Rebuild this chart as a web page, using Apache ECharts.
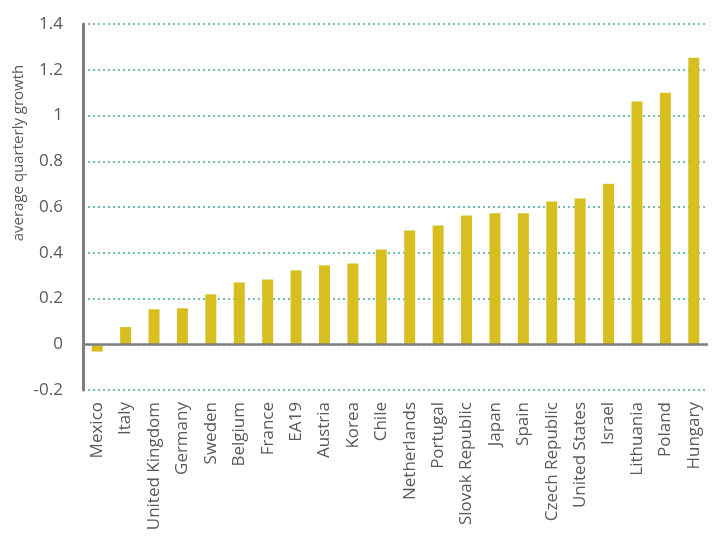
<!DOCTYPE html>
<html>
<head>
<meta charset="utf-8">
<script src="https://cdn.jsdelivr.net/npm/echarts@6/dist/echarts.min.js"></script>
<style>
  html, body { margin: 0; padding: 0; background: #fff; }
  #chart { width: 728px; height: 544px; }
</style>
</head>
<body>
<div id="chart"></div>
<script>
const countries = [
  'Mexico', 'Italy', 'United Kingdom', 'Germany', 'Sweden', 'Belgium', 'France',
  'EA19', 'Austria', 'Korea', 'Chile', 'Netherlands', 'Portugal', 'Slovak Republic',
  'Japan', 'Spain', 'Czech Republic', 'United States', 'Israel', 'Lithuania',
  'Poland', 'Hungary'
]
const growth = [
  -0.032, 0.075, 0.153, 0.157, 0.218, 0.270, 0.283,
  0.323, 0.345, 0.353, 0.414, 0.497, 0.519, 0.563,
  0.573, 0.573, 0.624, 0.637, 0.702, 1.061,
  1.100, 1.252
]
const yTicks = { min: -0.2, max: 1.4, step: 0.2 }
const yTitle = 'average quarterly growth'

const FONT = '"Open Sans", "Noto Sans", sans-serif'
const GREY = '#7f7f7f'

const chart = echarts.init(document.getElementById('chart'))

chart.setOption({
  animation: false,
  grid: { left: 83, right: 20, top: 24, bottom: 154 },
  xAxis: {
    type: 'category',
    data: countries,
    axisLine: { show: false },
    axisTick: { show: false },
    axisLabel: {
      rotate: 90,
      margin: 12,
      interval: 0,
      fontFamily: FONT,
      fontSize: 17,
      color: '#595959'
    }
  },
  yAxis: {
    type: 'value',
    min: yTicks.min,
    max: yTicks.max,
    interval: yTicks.step,
    axisLine: { show: true, lineStyle: { color: GREY, width: 3 } },
    axisTick: { show: false },
    axisLabel: {
      margin: 20,
      fontFamily: FONT,
      fontSize: 17,
      color: '#595959',
      formatter: v => String(Math.round(v * 10) / 10)
    },
    splitLine: {
      lineStyle: { color: '#4aa5a5', width: 1.5, type: [2, 3] }
    }
  },
  graphic: [{
    type: 'text',
    x: 19,
    y: 153,
    rotation: Math.PI / 2,
    style: {
      text: yTitle,
      font: '15px ' + FONT,
      fill: '#595959',
      align: 'center',
      verticalAlign: 'middle'
    }
  }],
  series: [{
    type: 'bar',
    data: growth,
    barWidth: 11,
    itemStyle: { color: '#d6bf1f' },
    markLine: {
      silent: true,
      symbol: 'none',
      label: { show: false },
      lineStyle: { color: GREY, width: 2.5, type: 'solid' },
      data: [{ yAxis: 0 }]
    }
  }]
})
</script>
</body>
</html>
